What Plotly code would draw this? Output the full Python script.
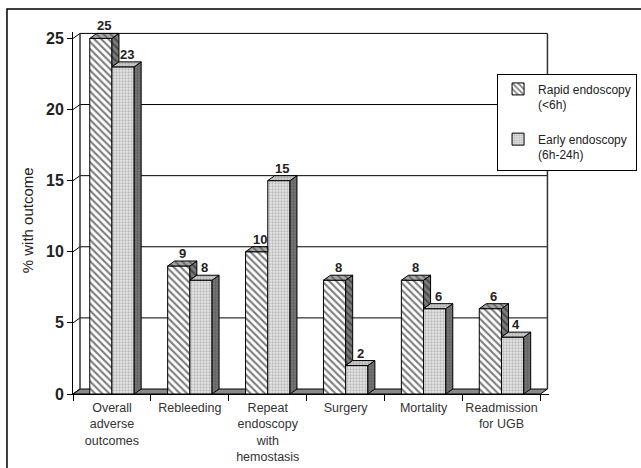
import plotly.graph_objects as go

# ---- data ----
categories = [
    "Overall<br>adverse<br>outcomes",
    "Rebleeding",
    "Repeat<br>endoscopy<br>with<br>hemostasis",
    "Surgery",
    "Mortality",
    "Readmission<br>for UGB",
]
rapid = [25, 9, 10, 8, 8, 6]
early = [23, 8, 15, 2, 6, 4]
series_names = ["Rapid endoscopy<br>(&lt;6h)", "Early endoscopy<br>(6h-24h)"]
y_ticks = [0, 5, 10, 15, 20, 25]
y_title = "% with outcome"

# ---- pseudo-3D geometry (in axis units) ----
W = 0.285      # bar width
DX = 0.09      # depth offset along x
DY = 0.35      # depth offset along y
X0, X1 = -0.5, len(categories) - 0.5
YMAX = y_ticks[-1]

FONT = "Arial, Liberation Sans, Helvetica, sans-serif"
centers = list(range(len(categories)))


def poly_trace(polys, fillcolor, pattern):
    xs, ys = [], []
    for pts in polys:
        for (x, y) in pts + [pts[0]]:
            xs.append(x)
            ys.append(y)
        xs.append(None)
        ys.append(None)
    return go.Scatter(
        x=xs, y=ys, mode="lines", fill="toself",
        fillcolor=fillcolor, fillpattern=pattern,
        line=dict(color="black", width=1),
        hoverinfo="skip", showlegend=False,
    )


fig = go.Figure()

hatch_front = dict(shape="\\", fgcolor="black", bgcolor="white", size=5, solidity=0.42)
dots_front = dict(shape=".", fgcolor="#8c8c8c", bgcolor="#e6e6e6", size=3, solidity=0.45)

fig.add_trace(go.Bar(
    x=centers, y=rapid, width=W, offset=-W, name=series_names[0],
    marker=dict(color="white", line=dict(color="black", width=1), pattern=hatch_front),
    legendgroup="a", hoverinfo="skip",
))
fig.add_trace(go.Bar(
    x=centers, y=early, width=W, offset=0, name=series_names[1],
    marker=dict(color="#d8d8d8", line=dict(color="black", width=1), pattern=dots_front),
    legendgroup="b", hoverinfo="skip",
))

# side and top faces of the "rapid" bars, trimmed where the neighbour hides them
rapid_side, rapid_top = [], []
for i, (h, d) in enumerate(zip(rapid, early)):
    xl, xr = i - W, i
    if h > d:
        rapid_side.append([(xr, d), (xr + DX, d + DY), (xr + DX, h + DY), (xr, h)])
        rapid_top.append([(xl, h), (xl + DX, h + DY), (xr + DX, h + DY), (xr, h)])
    else:
        rapid_top.append([(xl, h), (xl + DX, h + DY), (xr, h + DY), (xr, h)])

early_side, early_top = [], []
for i, d in enumerate(early):
    xl, xr = i, i + W
    early_side.append([(xr, 0), (xr + DX, DY), (xr + DX, d + DY), (xr, d)])
    early_top.append([(xl, d), (xl + DX, d + DY), (xr + DX, d + DY), (xr, d)])

fig.add_trace(poly_trace(rapid_side, "#7a7a7a",
                         dict(shape="\\", fgcolor="#111111", bgcolor="#7a7a7a", size=5, solidity=0.4)))
fig.add_trace(poly_trace(rapid_top, "#a0a0a0",
                         dict(shape="\\", fgcolor="#222222", bgcolor="#a8a8a8", size=5, solidity=0.35)))
fig.add_trace(poly_trace(early_side, "#6a6a6a",
                         dict(shape=".", fgcolor="#4a4a4a", bgcolor="#767676", size=3, solidity=0.45)))
fig.add_trace(poly_trace(early_top, "#c4c4c4",
                         dict(shape=".", fgcolor="#888888", bgcolor="#d0d0d0", size=3, solidity=0.45)))

# ---- back wall, floor and grid ----
shapes = []
floor_path = (f"M {X0},0 L {X0 + DX},{DY} L {X1 + DX},{DY} L {X1},0 Z")
shapes.append(dict(type="path", path=floor_path, xref="x", yref="y", layer="below",
                   fillcolor="#8a8a8a", line=dict(color="black", width=1)))
for v in y_ticks[1:]:
    shapes.append(dict(type="line", xref="x", yref="y", layer="below",
                       x0=X0 + DX, x1=X1 + DX, y0=v + DY, y1=v + DY,
                       line=dict(color="black", width=1)))
for v in y_ticks:
    shapes.append(dict(type="line", xref="x", yref="y", layer="below",
                       x0=X0, x1=X0 + DX, y0=v, y1=v + DY,
                       line=dict(color="black", width=1)))
for xv in (X0 + DX, X1 + DX):
    shapes.append(dict(type="line", xref="x", yref="y", layer="below",
                       x0=xv, x1=xv, y0=DY, y1=YMAX + DY,
                       line=dict(color="#333333", width=1.5)))
# outer frame
shapes.append(dict(type="rect", xref="paper", yref="paper",
                   x0=-0.1387, x1=1.25, y0=-0.25, y1=1.0635,
                   line=dict(color="black", width=1.5), fillcolor="rgba(0,0,0,0)"))

# ---- value labels ----
annotations = []
for i, (h, d) in enumerate(zip(rapid, early)):
    annotations.append(dict(x=i - W / 2 + DX / 2, y=h + DY, text=f"<b>{h}</b>",
                            showarrow=False, yanchor="bottom", yshift=-2,
                            font=dict(family=FONT, size=13, color="#222222")))
    annotations.append(dict(x=i + W / 2 + DX / 2, y=d + DY, text=f"<b>{d}</b>",
                            showarrow=False, yanchor="bottom", yshift=-2,
                            font=dict(family=FONT, size=13, color="#222222")))
annotations.append(dict(xref="paper", yref="paper", x=0, y=0.48, xshift=-46,
                        text=y_title, textangle=-90, showarrow=False,
                        xanchor="center", yanchor="middle",
                        font=dict(family=FONT, size=15, color="#222222")))

fig.update_layout(
    width=641, height=468,
    margin=dict(l=73, r=92, t=32, b=74, autoexpand=False),
    paper_bgcolor="white", plot_bgcolor="white",
    barmode="overlay",
    showlegend=True,
    legend=dict(x=1.185, y=0.885, xanchor="right", yanchor="top",
                bgcolor="white", bordercolor="black", borderwidth=1,
                font=dict(family=FONT, size=12, color="#222222"),
                valign="top", tracegroupgap=16, traceorder="grouped"),
    shapes=shapes,
    annotations=annotations,
    font=dict(family=FONT, color="#222222"),
)
fig.update_xaxes(
    range=[X0, X1 + DX + 0.02],
    tickmode="array", tickvals=centers, ticktext=categories,
    ticks="", showgrid=False, zeroline=False,
    showline=True, linecolor="black", linewidth=1,
    ticklabelstandoff=2,
    tickfont=dict(family=FONT, size=12.5, color="#333333"),
    minor=dict(tickmode="array", tickvals=[X0 + k for k in range(len(categories) + 1)],
               ticks="outside", ticklen=6, tickcolor="black", tickwidth=1, showgrid=False),
)
fig.update_yaxes(
    range=[0, YMAX + DY + 0.1],
    tickmode="array", tickvals=y_ticks, ticktext=[f"<b>{v}</b>" for v in y_ticks],
    ticks="outside", ticklen=5, tickcolor="black",
    showgrid=False, zeroline=False,
    showline=True, linecolor="black", linewidth=1,
    tickfont=dict(family=FONT, size=16, color="#222222"),
)

fig.write_html("out.html")
